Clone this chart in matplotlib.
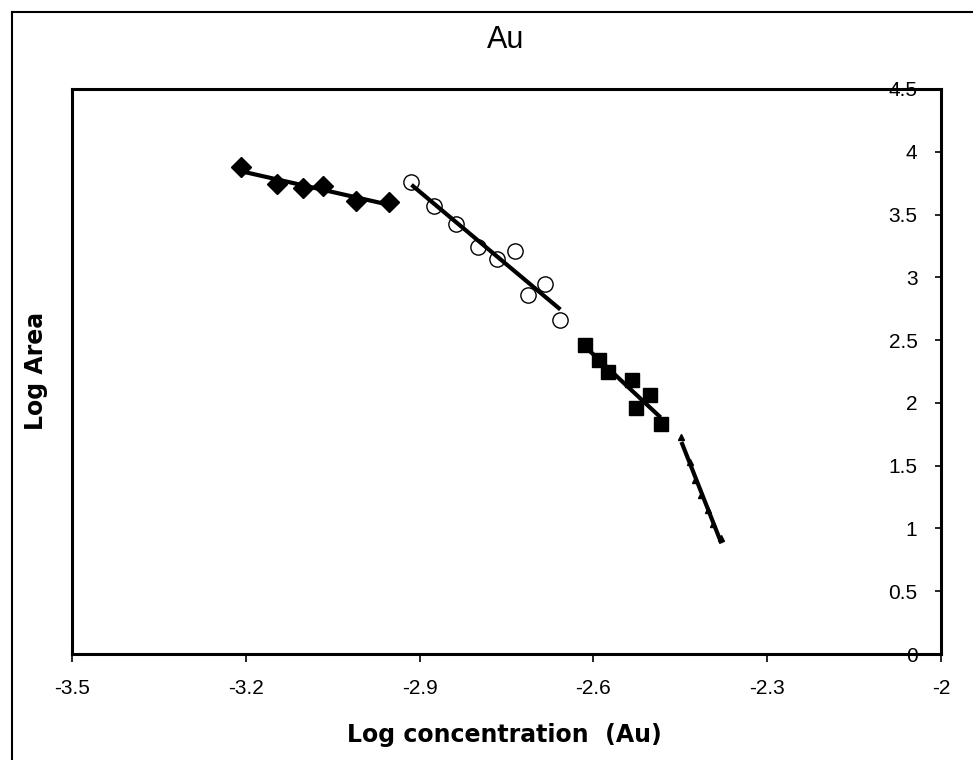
import numpy as np
import matplotlib
matplotlib.use("Agg")
import matplotlib.pyplot as plt
from matplotlib.lines import Line2D

plt.rcParams["font.family"] = ["Liberation Sans", "DejaVu Sans"]

# series (log concentration, log area)
diamond_x = [-3.209, -3.147, -3.102, -3.066, -3.010, -2.953]
diamond_y = [3.879, 3.744, 3.712, 3.728, 3.608, 3.601]

circle_x = [-2.914, -2.875, -2.837, -2.800, -2.766, -2.736, -2.713, -2.683, -2.657]
circle_y = [3.762, 3.569, 3.424, 3.243, 3.145, 3.211, 2.859, 2.947, 2.661]

square_x = [-2.614, -2.591, -2.574, -2.534, -2.526, -2.503, -2.484]
square_y = [2.459, 2.340, 2.247, 2.180, 1.961, 2.061, 1.834]

tri_x = [-2.448, -2.434, -2.424, -2.414, -2.403, -2.393, -2.379]
tri_y = [1.725, 1.526, 1.383, 1.264, 1.145, 1.034, 0.922]

x_ticks = [-3.5, -3.2, -2.9, -2.6, -2.3, -2.0]
x_tick_labels = ["-3.5", "-3.2", "-2.9", "-2.6", "-2.3", "-2"]
y_ticks = [0, 0.5, 1, 1.5, 2, 2.5, 3, 3.5, 4, 4.5]
y_tick_labels = ["0", "0.5", "1", "1.5", "2", "2.5", "3", "3.5", "4", "4.5"]


def trend(ax, xs, ys):
    xs = np.asarray(xs)
    k, b = np.polyfit(xs, ys, 1)
    xe = np.array([xs.min(), xs.max()])
    ax.plot(xe, k * xe + b, color="black", lw=3.0, zorder=4, solid_capstyle="butt")


fig = plt.figure(figsize=(9.73, 7.6), dpi=100)
ax = fig.add_axes([72 / 973, 1 - 654 / 760, (941 - 72) / 973, (654 - 89) / 760])

ax.plot(diamond_x, diamond_y, ls="none", marker="D", ms=10.5, mfc="black", mec="black", zorder=3)
ax.plot(circle_x, circle_y, ls="none", marker="o", ms=11, mfc="white", mec="black", mew=1.0, zorder=3)
ax.plot(square_x, square_y, ls="none", marker="s", ms=9.5, mfc="black", mec="black", zorder=3)
ax.plot(tri_x, tri_y, ls="none", marker="^", ms=5, mfc="black", mec="black", zorder=3)

for xs, ys in [(diamond_x, diamond_y), (circle_x, circle_y), (square_x, square_y), (tri_x, tri_y)]:
    trend(ax, xs, ys)

ax.set_xlim(-3.5, -2.0)
ax.set_ylim(0, 4.5)

for sp in ax.spines.values():
    sp.set_linewidth(2.2)
    sp.set_color("black")

ax.set_xticks(x_ticks)
ax.set_xticklabels(x_tick_labels)
ax.tick_params(axis="x", direction="out", length=6, width=1.2, pad=12, labelsize=15)

ax.set_yticks(y_ticks)
ax.set_yticklabels(y_tick_labels)
ax.tick_params(axis="y", left=False, right=True, labelleft=False, labelright=True,
               direction="in", length=4, width=1.2, pad=-17, labelsize=15)
for lab in ax.get_yticklabels():
    lab.set_horizontalalignment("right")

fig.text(506 / 973, 1 - 40 / 760, "Au", ha="center", va="center", fontsize=22)
fig.text(504 / 973, 1 - 735 / 760, "Log concentration  (Au)", ha="center", va="center",
         fontsize=17, fontweight="bold", family="DejaVu Sans")
fig.text(36 / 973, 1 - 371 / 760, "Log Area", ha="center", va="center", rotation=90,
         fontsize=17, fontweight="bold", family="DejaVu Sans")

# outer frame (only left and top edges are inside the picture)
fig.add_artist(Line2D([12 / 973, 12 / 973], [0, 1 - 12 / 760], transform=fig.transFigure,
                      color="black", lw=1.5))
fig.add_artist(Line2D([12 / 973, 1], [1 - 12 / 760, 1 - 12 / 760], transform=fig.transFigure,
                      color="black", lw=1.5))

fig.savefig("out.png", dpi=100)
